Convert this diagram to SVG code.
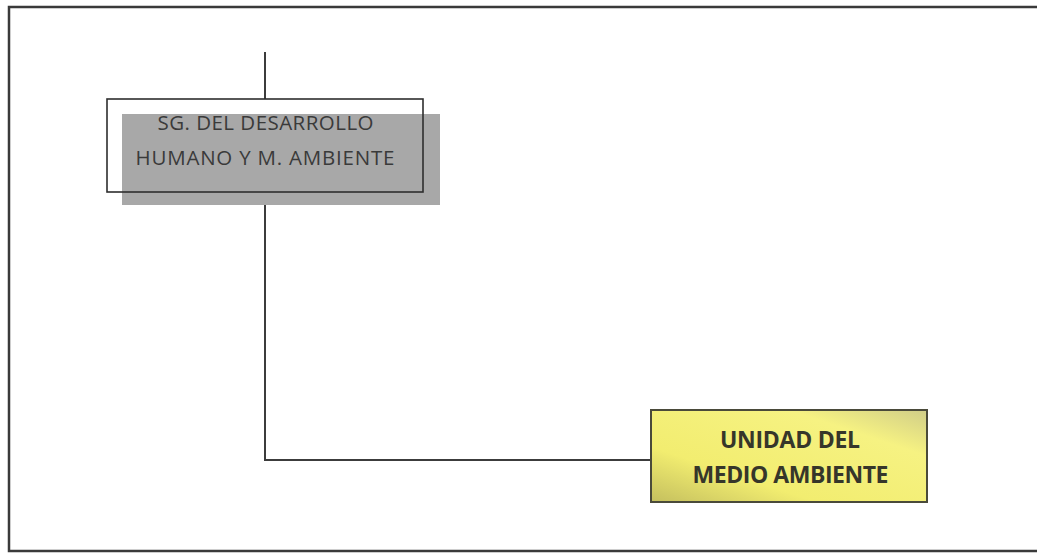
<svg xmlns="http://www.w3.org/2000/svg" width="1037" height="554" viewBox="0 0 1037 554">
  <style>
    .frame { fill: none; stroke: #3a3a3a; stroke-width: 2.5; }
    .link { fill: none; stroke: #3c3c3c; stroke-width: 2; }
    .outline { fill: none; stroke: #2e2e2e; stroke-width: 1.6; }
    .label-grey { font-family: "Open Sans", "Liberation Sans", sans-serif; font-size: 20.5px; fill: #3a3a3a; text-anchor: middle; }
    .label-bold { font-family: "Open Sans", "Liberation Sans", sans-serif; font-size: 23px; font-weight: bold; fill: #36362a; text-anchor: middle; }
  </style>
  <defs>
    <linearGradient id="yellowFill" x1="0" y1="1" x2="1" y2="0">
      <stop offset="0" stop-color="#c4bf5e"/>
      <stop offset="0.3" stop-color="#f2ed70"/>
      <stop offset="0.75" stop-color="#f6f282"/>
      <stop offset="1" stop-color="#d0cd88"/>
    </linearGradient>
  </defs>

  <rect width="1037" height="554" fill="#ffffff"/>

  <!-- page frame, open on the right -->
  <path class="frame" d="M1037 7 H9 V551 H1037"/>

  <!-- connectors -->
  <g id="connectors">
    <line class="link" x1="265" y1="52" x2="265" y2="99"/>
    <polyline class="link" points="265,205 265,460 651,460"/>
  </g>

  <!-- upper unit -->
  <g id="node-sg-desarrollo">
    <rect x="122" y="114" width="318" height="91" fill="#a8a8a8"/>
    <rect class="outline" x="107" y="99" width="316" height="93"/>
    <text class="label-grey" x="265.5" y="130" textLength="216" lengthAdjust="spacing">SG. DEL DESARROLLO</text>
    <text class="label-grey" x="265" y="165" textLength="259" lengthAdjust="spacing">HUMANO Y M. AMBIENTE</text>
  </g>

  <!-- lower unit -->
  <g id="node-medio-ambiente">
    <rect x="651" y="410" width="276" height="92" fill="url(#yellowFill)" stroke="#4a4a3a" stroke-width="2"/>
    <text class="label-bold" x="790" y="448" textLength="140" lengthAdjust="spacing">UNIDAD DEL</text>
    <text class="label-bold" x="790.5" y="483" textLength="196" lengthAdjust="spacing">MEDIO AMBIENTE</text>
  </g>
</svg>
